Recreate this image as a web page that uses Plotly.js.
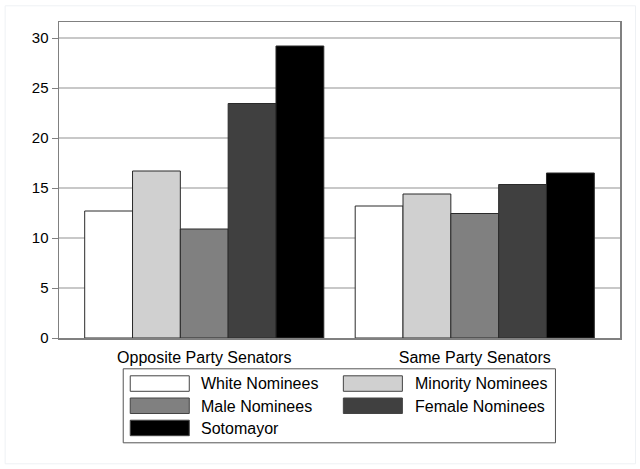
<!DOCTYPE html>
<html>
<head>
<meta charset="utf-8">
<script src="https://cdn.plot.ly/plotly-3.0.1.min.js"></script>
<style>
  body { margin: 0; background: #fff; }
  #chart { width: 640px; height: 469px; }
</style>
</head>
<body>
<div id="chart"></div>
<script>
// groups on the x axis
var groups = ["Opposite Party Senators", "Same Party Senators"];

// one series per nominee type
var seriesNames = ["White Nominees", "Minority Nominees", "Male Nominees", "Female Nominees", "Sotomayor"];
var whiteVals = [12.7, 13.2];
var minorityVals = [16.7, 14.4];
var maleVals = [10.9, 12.45];
var femaleVals = [23.45, 15.35];
var sotomayorVals = [29.2, 16.5];

var yTicks = [0, 5, 10, 15, 20, 25, 30];

var seriesColors = ["#ffffff", "#d0d0d0", "#808080", "#404040", "#000000"];
var allVals = [whiteVals, minorityVals, maleVals, femaleVals, sotomayorVals];

var W = 640, H = 469;
var mL = 59.3, mR = 20, mT = 21.7, mB = 131.3;
var plotW = W - mL - mR, plotH = H - mT - mB;

// pixel -> paper helpers for the hand-made legend
function px(x){ return (x - mL) / plotW; }
function py(y){ return (H - mB - y) / plotH; }

var data = [];
seriesNames.forEach((name, i) => {
  data.push({
    type: 'bar',
    x: groups,
    y: allVals[i],
    name: name,
    marker: {color: seriesColors[i], line: {color: '#2a2a2a', width: 1}},
    hoverinfo: 'name+y'
  });
});

var shapes = [];
var annotations = [];

// light outer frame of the graph region
shapes.push({type: 'rect', xref: 'paper', yref: 'paper',
  x0: px(5.5), x1: px(635.5), y0: py(463.5), y1: py(5.5),
  line: {color: '#eef1f4', width: 1}, layer: 'below'});

// legend box
shapes.push({type: 'rect', xref: 'paper', yref: 'paper',
  x0: px(123.5), x1: px(555.5), y0: py(442.5), y1: py(368.5),
  line: {color: '#555555', width: 1}, fillcolor: 'rgba(0,0,0,0)'});

seriesNames.forEach((name, i) => {
  var col = i % 2, row = Math.floor(i / 2);
  var sx = col === 0 ? 130.5 : 343.5;
  var tx = col === 0 ? 199 : 413;
  var top = 375.5 + row * 22.2;
  shapes.push({type: 'rect', xref: 'paper', yref: 'paper',
    x0: px(sx), x1: px(sx + 59), y0: py(top + 15.5), y1: py(top),
    fillcolor: seriesColors[i], line: {color: '#444444', width: 1}});
  annotations.push({xref: 'paper', yref: 'paper', x: px(tx), y: py(top + 8),
    xanchor: 'left', yanchor: 'middle', showarrow: false, text: name,
    font: {size: 16, color: '#000'}});
});

var layout = {
  width: W, height: H,
  margin: {l: mL, r: mR, t: mT, b: mB, pad: 0},
  paper_bgcolor: '#fff', plot_bgcolor: '#fff',
  font: {family: 'Liberation Sans, Arial, sans-serif', color: '#000', size: 16},
  barmode: 'group', bargap: 0.116, bargroupgap: 0,
  showlegend: false,
  xaxis: {
    type: 'category', range: [-0.537, 1.537],
    showgrid: false, zeroline: false,
    showline: true, mirror: true, linecolor: '#808080', linewidth: 1.5,
    ticks: '', tickfont: {size: 16}, ticklabelstandoff: 4
  },
  yaxis: {
    range: [0, 31.6], tickvals: yTicks,
    showgrid: true, gridcolor: '#c8c8c8', gridwidth: 1.2,
    zeroline: false,
    showline: true, mirror: true, linecolor: '#808080', linewidth: 1.5,
    ticks: 'outside', ticklen: 6, tickcolor: '#808080', tickwidth: 1,
    tickfont: {size: 15}
  },
  shapes: shapes,
  annotations: annotations
};

Plotly.newPlot('chart', data, layout, {displayModeBar: false, staticPlot: true});
</script>
</body>
</html>
